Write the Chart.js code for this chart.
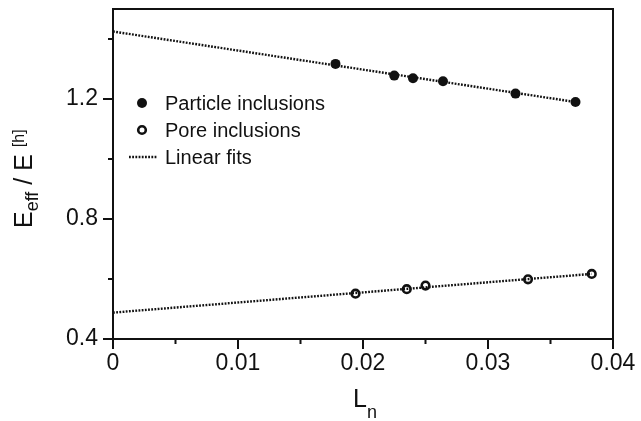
<!DOCTYPE html>
<html>
<head>
<meta charset="utf-8">
<title>Effective modulus vs L_n</title>
<script src="https://cdn.jsdelivr.net/npm/chart.js@4.4.0/dist/chart.umd.min.js"></script>
<style>
    html, body { margin: 0; padding: 0; background: #fff; }
    #wrap { width: 641px; height: 421px; }
</style>
</head>
<body>
<div id="wrap"><canvas id="modulusChart" width="641" height="421"></canvas></div>
<script>
// values
const particleLn = [0.0178, 0.0225, 0.0240, 0.0264, 0.0322, 0.0370];
const particleE = [1.317, 1.278, 1.269, 1.259, 1.218, 1.190];
const poreLn = [0.0194, 0.0235, 0.0250, 0.0332, 0.0383];
const poreE = [0.551, 0.566, 0.578, 0.599, 0.617];

// end points of the two linear fits
const particleFitLn = [0, 0.0370];
const particleFitE = [1.425, 1.190];
const poreFitLn = [0, 0.0383];
const poreFitE = [0.488, 0.617];

const xTicks = [0, 0.01, 0.02, 0.03, 0.04];
const xTickLabels = ['0', '0.01', '0.02', '0.03', '0.04'];
const xMinorTicks = [0.005, 0.015, 0.025, 0.035];
const yTicks = [0.4, 0.8, 1.2];
const yTickLabels = ['0.4', '0.8', '1.2'];
const yMinorTicks = [0.6, 1.0, 1.4];

const legendLabels = ['Particle inclusions', 'Pore inclusions', 'Linear fits'];

const INK = '#111';
const FONT = '"Liberation Sans", Arial, Helvetica, sans-serif';
const DOTS = [1.8, 1.4];

function toPoints(xs, ys) {
    return xs.map((x, i) => ({ x: x, y: ys[i] }));
}

// frame, minor ticks, axis titles and the legend inside the plot
const figurePlugin = {
    id: 'figureExtras',
    afterDraw(chart) {
        const ctx = chart.ctx;
        const area = chart.chartArea;
        const xs = chart.scales.x;
        const ys = chart.scales.y;

        ctx.save();
        ctx.strokeStyle = INK;
        ctx.lineWidth = 2;
        // top and right sides of the box
        ctx.beginPath();
        ctx.moveTo(area.left, area.top);
        ctx.lineTo(area.right, area.top);
        ctx.lineTo(area.right, area.bottom + 1);
        ctx.stroke();

        // minor ticks
        ctx.beginPath();
        xMinorTicks.forEach(v => {
            const px = xs.getPixelForValue(v);
            ctx.moveTo(px, area.bottom);
            ctx.lineTo(px, area.bottom + 5);
        });
        yMinorTicks.forEach(v => {
            const py = ys.getPixelForValue(v);
            ctx.moveTo(area.left, py);
            ctx.lineTo(area.left - 5, py);
        });
        ctx.stroke();

        ctx.fillStyle = INK;
        ctx.textAlign = 'left';
        ctx.textBaseline = 'alphabetic';

        // x title: L with subscript n
        ctx.font = '25px ' + FONT;
        const lx = 353;
        ctx.fillText('L', lx, 407);
        const lw = ctx.measureText('L').width;
        ctx.font = '18px ' + FONT;
        ctx.fillText('n', lx + lw, 418);

        // y title: E_eff / E^[h], rotated
        ctx.save();
        ctx.translate(32, 228);
        ctx.rotate(-Math.PI / 2);
        let cx = 0;
        ctx.font = '25px ' + FONT;
        ctx.fillText('E', cx, 0);
        cx += ctx.measureText('E').width;
        ctx.font = '18px ' + FONT;
        ctx.fillText('eff', cx, 6);
        cx += ctx.measureText('eff').width;
        ctx.font = '25px ' + FONT;
        ctx.fillText(' / E', cx, 0);
        cx += ctx.measureText(' / E ').width;
        ctx.font = '16px ' + FONT;
        ctx.fillText('[h]', cx, -8);
        ctx.restore();

        // legend
        const lgX = area.left + 29;
        const textX = area.left + 52;
        const rows = [area.top + 94, area.top + 121, area.top + 148];
        ctx.font = '20px ' + FONT;
        ctx.textBaseline = 'middle';
        legendLabels.forEach((label, i) => {
            ctx.fillText(label, textX, rows[i] + 1);
        });

        ctx.beginPath();
        ctx.arc(lgX, rows[0], 5, 0, Math.PI * 2);
        ctx.fill();

        ctx.lineWidth = 2.6;
        ctx.beginPath();
        ctx.arc(lgX, rows[1], 3.8, 0, Math.PI * 2);
        ctx.stroke();

        ctx.lineWidth = 2.4;
        ctx.setLineDash(DOTS);
        ctx.beginPath();
        ctx.moveTo(lgX - 13, rows[2]);
        ctx.lineTo(lgX + 15, rows[2]);
        ctx.stroke();
        ctx.restore();
    }
};

const ctx = document.getElementById('modulusChart').getContext('2d');
const modulusChart = new Chart(ctx, {
    type: 'scatter',
    data: {
        datasets: [{
            label: legendLabels[0],
            data: toPoints(particleLn, particleE),
            pointStyle: 'circle',
            pointRadius: 5,
            pointBackgroundColor: INK,
            pointBorderWidth: 0,
            order: 1
        }, {
            label: legendLabels[1],
            data: toPoints(poreLn, poreE),
            pointStyle: 'circle',
            pointRadius: 3.8,
            pointBackgroundColor: 'rgba(0,0,0,0)',
            pointBorderColor: INK,
            pointBorderWidth: 2.6,
            order: 1
        }, {
            label: legendLabels[2],
            data: toPoints(particleFitLn, particleFitE),
            showLine: true,
            pointRadius: 0,
            borderColor: INK,
            borderWidth: 2.4,
            borderDash: DOTS,
            order: 2
        }, {
            label: legendLabels[2],
            data: toPoints(poreFitLn, poreFitE),
            showLine: true,
            pointRadius: 0,
            borderColor: INK,
            borderWidth: 2.4,
            borderDash: DOTS,
            order: 2
        }]
    },
    options: {
        responsive: false,
        animation: false,
        devicePixelRatio: 1,
        layout: {
            padding: { left: 0, top: 9, right: 28, bottom: 0 }
        },
        plugins: {
            legend: { display: false },
            tooltip: { enabled: false }
        },
        scales: {
            x: {
                type: 'linear',
                min: 0,
                max: 0.04,
                afterBuildTicks: scale => {
                    scale.ticks = xTicks.map(v => ({ value: v }));
                },
                afterFit: scale => {
                    scale.height = 82;
                    scale.paddingLeft = 0;
                    scale.paddingRight = 0;
                },
                ticks: {
                    color: INK,
                    font: { family: FONT, size: 23 },
                    padding: 1,
                    maxRotation: 0,
                    callback: (value, index) => xTickLabels[index]
                },
                grid: {
                    drawOnChartArea: false,
                    drawTicks: true,
                    tickLength: 10,
                    color: INK,
                    lineWidth: 2
                },
                border: { display: true, color: INK, width: 2 }
            },
            y: {
                type: 'linear',
                min: 0.4,
                max: 1.5,
                afterBuildTicks: scale => {
                    scale.ticks = yTicks.map(v => ({ value: v }));
                },
                afterFit: scale => {
                    scale.width = 113;
                    scale.paddingTop = 0;
                    scale.paddingBottom = 0;
                },
                ticks: {
                    color: INK,
                    font: { family: FONT, size: 23 },
                    padding: 5,
                    callback: (value, index) => yTickLabels[index]
                },
                grid: {
                    drawOnChartArea: false,
                    drawTicks: true,
                    tickLength: 10,
                    color: INK,
                    lineWidth: 2
                },
                border: { display: true, color: INK, width: 2 }
            }
        }
    },
    plugins: [figurePlugin]
});
</script>
</body>
</html>
